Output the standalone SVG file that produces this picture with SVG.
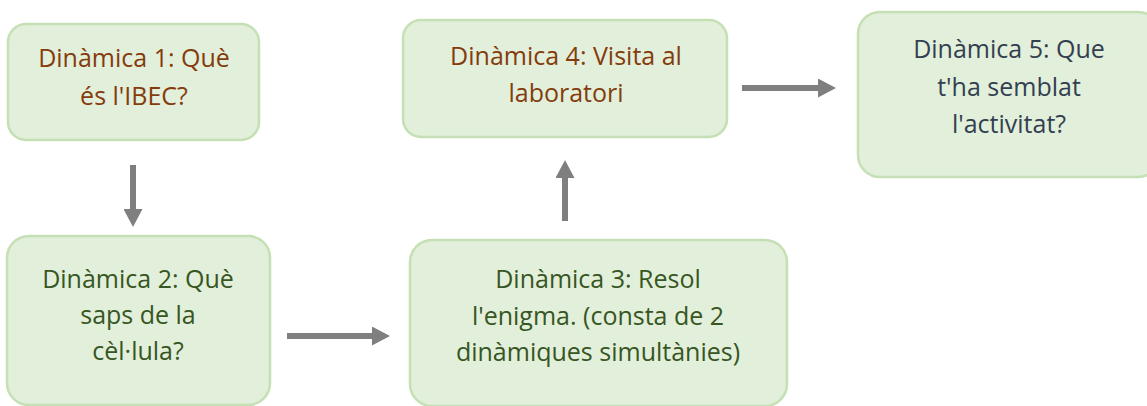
<svg xmlns="http://www.w3.org/2000/svg" width="1147" height="406" viewBox="0 0 1147 406">
<style>
.box{fill:#E2EFDA;stroke:#C5E0B4;stroke-width:2.5}
text{font-family:"Open Sans","Noto Sans",sans-serif;font-size:25px;text-anchor:middle}
.brown{fill:#843C0C}
.green{fill:#375623}
.slate{fill:#333F50}
.conn{stroke:#7F7F7F;stroke-width:6;fill:none}
</style>
<defs>
<marker id="ah" viewBox="0 0 18 19" refX="0" refY="9.5" markerUnits="userSpaceOnUse" markerWidth="18" markerHeight="19" orient="auto">
<path d="M0,0 L18,9.5 L0,19 Z" fill="#7F7F7F"/>
</marker>
</defs>
<rect width="1147" height="406" fill="#FFFFFF"/>
<g id="connectors">
<line class="conn" x1="133" y1="165" x2="133" y2="209" marker-end="url(#ah)"/>
<line class="conn" x1="287" y1="336" x2="372" y2="336" marker-end="url(#ah)"/>
<line class="conn" x1="565" y1="221" x2="565" y2="178" marker-end="url(#ah)"/>
<line class="conn" x1="742" y1="88" x2="818" y2="88" marker-end="url(#ah)"/>
</g>
<g id="node1">
<rect class="box" x="8" y="24" width="251" height="116" rx="18"/>
<text class="brown" x="134" y="67">Dinàmica 1: Què</text>
<text class="brown" x="134" y="105">és l'IBEC?</text>
</g>
<g id="node2">
<rect class="box" x="7" y="236" width="263" height="169" rx="22"/>
<text class="green" x="138" y="288">Dinàmica 2: Què</text>
<text class="green" x="138" y="324">saps de la</text>
<text class="green" x="138" y="360">cèl·lula?</text>
</g>
<g id="node3">
<rect class="box" x="410" y="240" width="377" height="166" rx="22"/>
<text class="green" x="598" y="288">Dinàmica 3: Resol</text>
<text class="green" x="598" y="325">l'enigma. (consta de 2</text>
<text class="green" x="598" y="361">dinàmiques simultànies)</text>
</g>
<g id="node4">
<rect class="box" x="403" y="20" width="324" height="117" rx="18"/>
<text class="brown" x="566" y="65">Dinàmica 4: Visita al</text>
<text class="brown" x="566" y="102">laboratori</text>
</g>
<g id="node5">
<rect class="box" x="858" y="12" width="302" height="165" rx="22"/>
<text class="slate" x="1009" y="58">Dinàmica 5: Que</text>
<text class="slate" x="1009" y="96">t'ha semblat</text>
<text class="slate" x="1009" y="133">l'activitat?</text>
</g>
</svg>
